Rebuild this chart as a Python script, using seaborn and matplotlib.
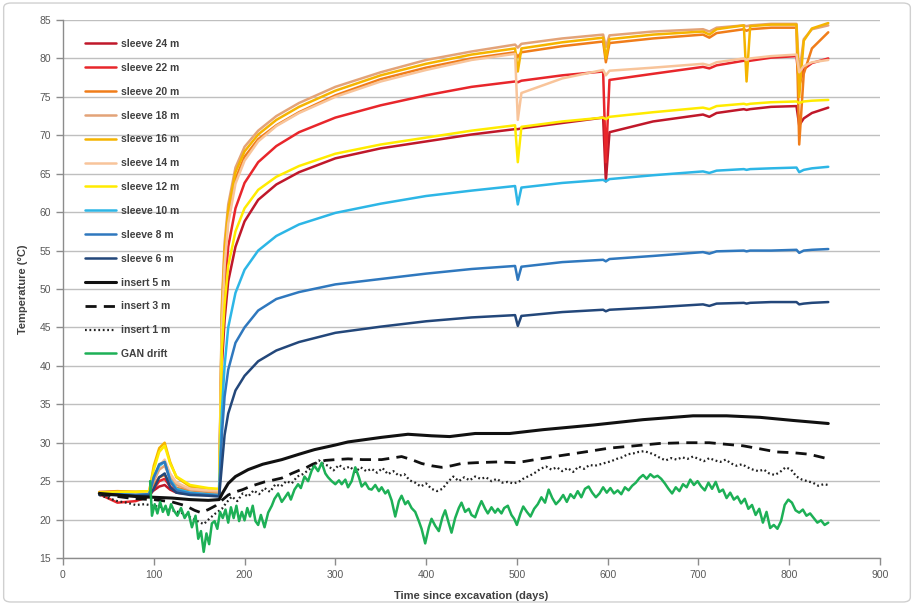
import matplotlib
matplotlib.use("Agg")
import matplotlib.pyplot as plt
import seaborn as sns
import pandas as pd
from matplotlib.patches import FancyBboxPatch

sns.set_theme(style="white")
plt.rcParams['font.family'] = ['Liberation Sans', 'DejaVu Sans']

# ---------------- data ----------------
sleeve_days = [40, 60, 80, 95, 100, 106, 112, 118, 125, 140, 160, 172,
               175, 178, 182, 190, 200, 215, 235, 260,
               300, 350, 400, 450, 498, 501, 505, 550, 595, 598,
               602, 650, 705, 712, 720, 750, 753, 757, 780, 808,
               811, 816, 825, 843]

sleeve_24 = [23.4, 23.3, 23.2, 23.3, 23.8, 24.3, 24.5, 23.9, 23.5, 23.3, 23.2, 23.1,
             40, 46, 51, 55.5, 58.8, 61.6, 63.6, 65.2,
             67.0, 68.3, 69.2, 70.1, 70.8, 70.8, 70.9, 71.6, 72.3, 64.0,
             70.4, 71.8, 72.7, 72.4, 72.9, 73.4, 73.3, 73.4, 73.7, 73.8,
             71.3, 72.2, 72.9, 73.6]
sleeve_22 = [23.3, 22.2, 22.4, 23.0, 24.0, 25.0, 25.3, 24.3, 23.7, 23.4, 23.3, 23.2,
             43, 50, 55.5, 60.5, 63.8, 66.5, 68.6, 70.4,
             72.3, 73.9, 75.2, 76.3, 77.0, 76.9, 77.1, 77.8, 78.3, 66.5,
             77.2, 78.0, 78.9, 78.7, 79.1, 79.7, 79.6, 79.7, 80.1, 80.3,
             76.5, 78.6, 79.4, 80.0]
sleeve_20 = [23.6, 23.7, 23.6, 23.6, 24.5, 25.5, 25.8, 24.8, 24.1, 23.8, 23.6, 23.5,
             46, 54, 59.5, 64.3, 67.2, 69.5, 71.3, 73.0,
             75.2, 77.3, 78.8, 80.0, 80.8, 80.2, 80.8, 81.6, 82.2, 79.5,
             82.0, 82.6, 83.1, 82.7, 83.3, 83.8, 83.6, 83.8, 84.0, 84.0,
             68.8, 78.0, 81.3, 83.4]
sleeve_18 = [23.4, 23.5, 23.4, 23.5, 25.0, 26.5, 27.0, 25.5, 24.5, 23.9, 23.7, 23.6,
             48, 56, 61, 65.8, 68.5, 70.6, 72.5, 74.2,
             76.3, 78.2, 79.8, 80.9, 81.8, 81.4, 81.9, 82.6, 83.1, 81.5,
             83.0, 83.5, 83.8, 83.5, 84.0, 84.3, 84.2, 84.3, 84.5, 84.5,
             78.0, 82.5, 83.8, 84.3]
sleeve_16 = [23.5, 23.6, 23.6, 23.7, 27.0, 29.3, 30.0, 27.5, 25.5, 24.3, 24.0, 23.9,
             47, 55, 60.3, 65.2, 67.9, 70.1, 72.0, 73.7,
             75.8, 77.8, 79.3, 80.5, 81.3, 78.3, 81.3, 82.1, 82.7, 80.0,
             82.5, 83.1, 83.5, 83.1, 83.8, 84.3, 77.0, 84.2, 84.4, 84.4,
             75.0, 82.3, 83.9, 84.6]
sleeve_14 = [23.4, 23.5, 23.5, 23.6, 25.5, 27.0, 27.8, 26.0, 24.8, 24.0, 23.8, 23.8,
             45, 53, 58.5, 63.7, 66.7, 69.2, 71.2, 72.9,
             75.0, 77.0, 78.5, 79.8, 80.6, 72.0, 75.5, 77.4, 78.5, 77.8,
             78.4, 78.8, 79.3, 79.1, 79.5, 80.0, 79.8, 80.0, 80.3, 80.5,
             78.2, 79.0, 79.5, 79.8]
sleeve_12 = [23.5, 23.6, 23.6, 23.7, 26.5, 28.8, 29.6, 27.3, 25.6, 24.5, 24.1, 24.0,
             42, 48, 53, 57.5, 60.5, 62.9, 64.6, 66.0,
             67.6, 68.8, 69.7, 70.6, 71.3, 66.5, 71.1, 71.8, 72.3, 72.1,
             72.4, 73.0, 73.6, 73.4, 73.8, 74.1, 74.0, 74.1, 74.3, 74.4,
             74.2, 74.4, 74.5, 74.6]
sleeve_10 = [23.3, 23.3, 23.2, 23.3, 25.5, 27.0, 27.5, 25.2, 24.0, 23.5, 23.3, 23.2,
             34, 40, 45, 49.5, 52.5, 55.0, 56.9, 58.4,
             59.9, 61.1, 62.1, 62.8, 63.4, 61.0, 63.2, 63.8, 64.2, 64.0,
             64.3, 64.8, 65.3, 65.1, 65.4, 65.6, 65.5, 65.6, 65.7, 65.8,
             65.2, 65.5, 65.7, 65.9]
sleeve_8 = [23.3, 23.3, 23.2, 23.3, 25.5, 27.2, 27.5, 25.0, 23.8, 23.4, 23.2, 23.1,
            31, 36, 39.5, 43.0, 45.0, 47.2, 48.7, 49.6,
            50.6, 51.3, 52.0, 52.6, 53.0, 51.2, 52.9, 53.5, 53.8, 53.6,
            53.9, 54.3, 54.8, 54.6, 54.9, 55.0, 54.9, 55.0, 55.0, 55.1,
            54.7, 55.0, 55.1, 55.2]
sleeve_6 = [23.2, 23.2, 23.1, 23.1, 24.0, 25.5, 26.0, 24.2, 23.5, 23.2, 23.1, 23.0,
            27, 31, 33.8, 36.8, 38.7, 40.6, 42.0, 43.1,
            44.3, 45.1, 45.8, 46.3, 46.6, 45.2, 46.5, 47.0, 47.3, 47.1,
            47.3, 47.6, 48.0, 47.8, 48.1, 48.2, 48.1, 48.2, 48.3, 48.3,
            48.0, 48.1, 48.2, 48.3]

insert5_days = [40, 60, 80, 100, 120, 140, 160, 172, 176, 182, 190, 204, 220, 241, 260,
                277, 300, 314, 351, 380, 406, 426, 454, 492, 529, 584, 639, 694, 731,
                768, 804, 843]
insert5 = [23.4, 23.2, 23.0, 22.9, 22.8, 22.6, 22.5, 22.6, 23.5, 24.7, 25.6, 26.5, 27.2,
           27.8, 28.5, 29.1, 29.7, 30.1, 30.7, 31.1, 30.9, 30.8, 31.2, 31.2, 31.7, 32.3,
           33.0, 33.5, 33.5, 33.3, 32.9, 32.5]

insert3_days = [40, 60, 80, 100, 120, 135, 145, 152, 160, 168, 175, 182, 190, 198, 206,
                214, 222, 230, 241, 252, 260, 267, 275, 282, 289, 300, 314, 330, 351,
                362, 373, 384, 395, 406, 417, 428, 439, 455, 479, 500, 520, 547, 575,
                602, 630, 657, 685, 712, 730, 749, 768, 786, 804, 822, 843]
insert3 = [23.3, 23.0, 22.7, 22.6, 22.3, 21.8, 21.2, 20.9, 21.3, 21.8, 22.5, 23.2, 23.6,
           23.9, 24.3, 24.6, 24.9, 25.1, 25.4, 26.0, 26.4, 26.7, 27.2, 27.5, 27.7, 27.8,
           27.9, 27.8, 27.8, 28.0, 28.2, 27.8, 27.3, 27.0, 26.8, 27.0, 27.3, 27.4, 27.5,
           27.4, 27.8, 28.3, 28.8, 29.3, 29.6, 29.9, 30.0, 30.0, 29.8, 29.6, 29.2, 28.8,
           28.7, 28.5, 27.9]

insert1_days = [40, 50, 60, 70, 80, 90, 100, 110, 120, 130, 140, 148, 155, 162, 168, 175,
                180, 186, 192, 198, 204, 210, 216, 222, 228, 234, 240, 246, 252, 258,
                264, 270, 276, 282, 286, 292, 298, 304, 310, 316, 322, 328, 334, 340,
                346, 352, 358, 364, 370, 376, 382, 388, 394, 400, 406, 412, 418, 424,
                430, 436, 442, 448, 454, 460, 466, 472, 478, 484, 490, 496, 502, 508,
                514, 520, 526, 532, 538, 544, 550, 556, 562, 568, 574, 580, 586, 592,
                598, 604, 610, 616, 622, 628, 634, 640, 646, 652, 658, 664, 670, 676,
                682, 688, 694, 700, 706, 712, 718, 724, 730, 736, 742, 748, 754, 760,
                766, 772, 778, 784, 790, 796, 802, 808, 814, 820, 826, 832, 838, 843]
insert1 = [23.2, 22.8, 22.4, 22.2, 21.9, 22.0, 21.8, 21.6, 21.2, 20.9, 20.3, 19.8, 19.4,
           20.2, 20.8, 21.4, 22.2, 23.0, 22.4, 23.4, 23.0, 23.8, 23.3, 24.1, 23.6, 24.6,
           24.3, 25.0, 24.7, 25.6, 25.9, 26.4, 27.0, 27.7, 27.3, 27.0, 26.4, 27.1, 26.6,
           26.9, 26.2, 26.8, 26.3, 26.6, 26.1, 26.7, 25.9, 26.3, 25.7, 25.9, 25.1, 24.8,
           24.3, 24.7, 24.0, 23.7, 24.0, 24.9, 25.6, 25.0, 25.5, 25.1, 25.6, 25.3, 25.5,
           25.0, 25.3, 24.8, 24.9, 24.7, 24.9, 25.4, 25.7, 26.1, 26.6, 26.9, 26.5, 26.8,
           26.3, 26.7, 26.2, 26.9, 26.6, 27.1, 27.0, 27.2, 27.4, 27.6, 27.9, 28.1, 28.5,
           28.6, 28.8, 28.9, 28.7, 28.4, 28.0, 27.7, 28.0, 27.8, 28.1, 27.9, 28.2, 27.9,
           27.6, 28.0, 27.7, 27.5, 27.8, 27.3, 27.0, 27.2, 26.8, 26.5, 26.3, 26.5, 26.0,
           25.8, 26.2, 26.8, 26.5, 25.6, 25.2, 25.0, 24.8, 24.4, 24.6, 24.5]

gan_days = [96, 98, 101, 104, 107, 110, 113, 116, 119, 122, 126, 130, 134, 138, 142, 146,
            149, 152, 155, 158, 161, 164, 167, 170, 173, 176, 179, 182, 185, 188, 191,
            194, 197, 200, 203, 206, 209, 212, 215, 218, 222, 226, 230, 233, 237, 241,
            244, 248, 251, 255, 259, 262, 266, 270, 274, 277, 281, 285, 289, 292, 296,
            300, 304, 307, 311, 314, 318, 322, 326, 329, 333, 337, 340, 344, 348, 351,
            355, 358, 362, 366, 370, 373, 377, 380, 384, 388, 392, 395, 399, 403, 406,
            410, 414, 418, 421, 425, 428, 432, 436, 439, 443, 447, 450, 454, 458, 461,
            465, 468, 472, 476, 479, 483, 486, 490, 494, 497, 500, 504, 507, 511, 515,
            519, 523, 527, 531, 535, 539, 543, 547, 551, 555, 559, 563, 567, 571, 575,
            579, 583, 587, 591, 595, 599, 603, 607, 611, 615, 619, 623, 627, 631, 635,
            639, 643, 647, 651, 655, 659, 663, 667, 671, 675, 679, 683, 687, 691, 695,
            699, 703, 707, 711, 715, 719, 723, 727, 731, 735, 739, 743, 747, 751, 755,
            759, 763, 767, 771, 775, 779, 783, 787, 791, 795, 799, 803, 807, 811, 815,
            819, 823, 827, 831, 835, 839, 843]
gan_drift = [25.0, 20.5, 22.0, 20.8, 22.3, 21.0, 21.8, 20.6, 22.0, 21.2, 20.5, 21.5, 20.2,
             21.0, 19.0, 20.5, 17.5, 18.5, 15.8, 18.2, 16.8, 19.5, 19.8, 18.8, 21.0, 20.2,
             21.3, 19.6, 21.6, 20.2, 21.8, 19.8, 21.0, 19.9, 21.5, 20.4, 21.8, 19.8, 19.3,
             20.6, 19.0, 20.9, 21.8, 22.7, 23.4, 22.3, 22.8, 23.5, 22.6, 23.9, 24.6, 24.1,
             25.6, 25.0, 26.4, 27.0, 26.3, 27.4, 26.0, 25.5, 25.0, 24.6, 25.1, 24.6, 25.2,
             24.2, 25.0, 26.8, 25.5, 24.3, 24.8, 24.0, 23.9, 24.5, 23.7, 24.2, 23.4, 23.8,
             22.5, 20.4, 22.4, 23.1, 22.0, 22.4, 21.5, 21.0, 19.8, 18.8, 16.9, 19.0, 20.1,
             19.2, 18.5, 20.3, 21.2, 19.5, 18.3, 20.2, 21.5, 22.2, 21.0, 21.4, 20.6, 20.3,
             21.6, 22.4, 21.4, 20.8, 21.6, 20.9, 21.4, 20.8, 21.5, 21.8, 20.6, 20.1, 19.3,
             20.8, 21.7, 21.0, 20.4, 21.4, 22.0, 22.9, 22.2, 23.9, 22.8, 22.0, 22.5, 23.2,
             22.3, 23.3, 22.8, 23.7, 22.9, 24.0, 24.3, 23.5, 22.9, 23.4, 24.2, 23.5, 24.1,
             23.4, 23.8, 23.3, 24.2, 23.8, 24.4, 24.8, 25.4, 25.8, 25.3, 25.9, 25.5, 25.7,
             25.3, 24.7, 24.0, 23.4, 24.2, 23.7, 24.6, 24.2, 25.2, 24.5, 25.0, 24.3, 23.8,
             24.8, 24.0, 24.9, 23.6, 23.9, 22.8, 23.5, 22.6, 23.0, 22.1, 22.7, 21.4, 21.9,
             20.6, 21.4, 19.6, 21.0, 18.9, 19.3, 18.8, 19.8, 21.9, 22.6, 22.2, 21.2, 20.9,
             21.3, 20.5, 20.8, 20.2, 19.6, 19.9, 19.3, 19.6]

labels = ["sleeve 24 m", "sleeve 22 m", "sleeve 20 m", "sleeve 18 m", "sleeve 16 m",
          "sleeve 14 m", "sleeve 12 m", "sleeve 10 m", "sleeve 8 m", "sleeve 6 m",
          "insert 5 m", "insert 3 m", "insert 1 m", "GAN drift"]
colors = ["#C0182A", "#E8262B", "#F07D1A", "#E3A378", "#F5B400", "#F8C49A", "#FFEB00",
          "#2DB6E6", "#2F78BE", "#23477A", "#111111", "#111111", "#222222", "#1DB056"]

series_x = [sleeve_days] * 10 + [insert5_days, insert3_days, insert1_days, gan_days]
series_y = [sleeve_24, sleeve_22, sleeve_20, sleeve_18, sleeve_16, sleeve_14, sleeve_12,
            sleeve_10, sleeve_8, sleeve_6, insert5, insert3, insert1, gan_drift]
styles = ["-"] * 11 + [(0, (4, 2.6)), (0, (0.8, 1.2)), "-"]
widths = [1.8] * 10 + [2.2, 2.0, 1.6, 1.8]

# ---------------- figure ----------------
fig = plt.figure(figsize=(9.14, 6.05), dpi=100)
fig.patch.set_facecolor("white")
border = FancyBboxPatch((0.004, 0.005), 0.992, 0.99, boxstyle="round,pad=0,rounding_size=0.008",
                        transform=fig.transFigure, facecolor="none", edgecolor="#D0D0D0",
                        linewidth=1.0)
fig.patches.append(border)

ax = fig.add_axes([63 / 914, 1 - 558 / 605, (880 - 63) / 914, (558 - 20) / 605])

for lab, xs, ys, c, ls, lw in zip(labels, series_x, series_y, colors, styles, widths):
    df = pd.DataFrame({"day": xs, "temp": ys})
    sns.lineplot(data=df, x="day", y="temp", ax=ax, color=c, linestyle=ls, linewidth=lw,
                 label=lab, estimator=None, sort=False)

ax.set_xlim(0, 900)
ax.set_ylim(15, 85)
ax.set_xticks(range(0, 901, 100))
ax.set_yticks(range(15, 86, 5))
ax.yaxis.grid(True, color="#BFBFBF", linewidth=1.0)
ax.xaxis.grid(False)
ax.set_axisbelow(True)
for s in ["top", "right"]:
    ax.spines[s].set_visible(False)
for s in ["left", "bottom"]:
    ax.spines[s].set_color("#8C8C8C")
    ax.spines[s].set_linewidth(1.0)
ax.tick_params(axis="both", direction="out", length=5, width=1, color="#8C8C8C",
               labelsize=7.5, labelcolor="#595959", left=True, bottom=True)

ax.set_xlabel("Time since excavation (days)", fontsize=8, fontweight="bold",
              color="#404040", labelpad=8)
ax.set_ylabel("Temperature (°C)", fontsize=8, fontweight="bold", color="#404040",
              labelpad=8)

handles, labs = ax.get_legend_handles_labels()
leg = ax.legend(handles, labs, loc="upper left", bbox_to_anchor=(85 / 914, 1 - 39 / 605),
                bbox_transform=fig.transFigure, frameon=False, fontsize=7.5,
                handlelength=3.0, handletextpad=0.5, labelspacing=1.33, borderpad=0,
                borderaxespad=0)
for t in leg.get_texts():
    t.set_fontweight("bold")
    t.set_color("#404040")

fig.savefig("out.png", dpi=100, facecolor="white")
